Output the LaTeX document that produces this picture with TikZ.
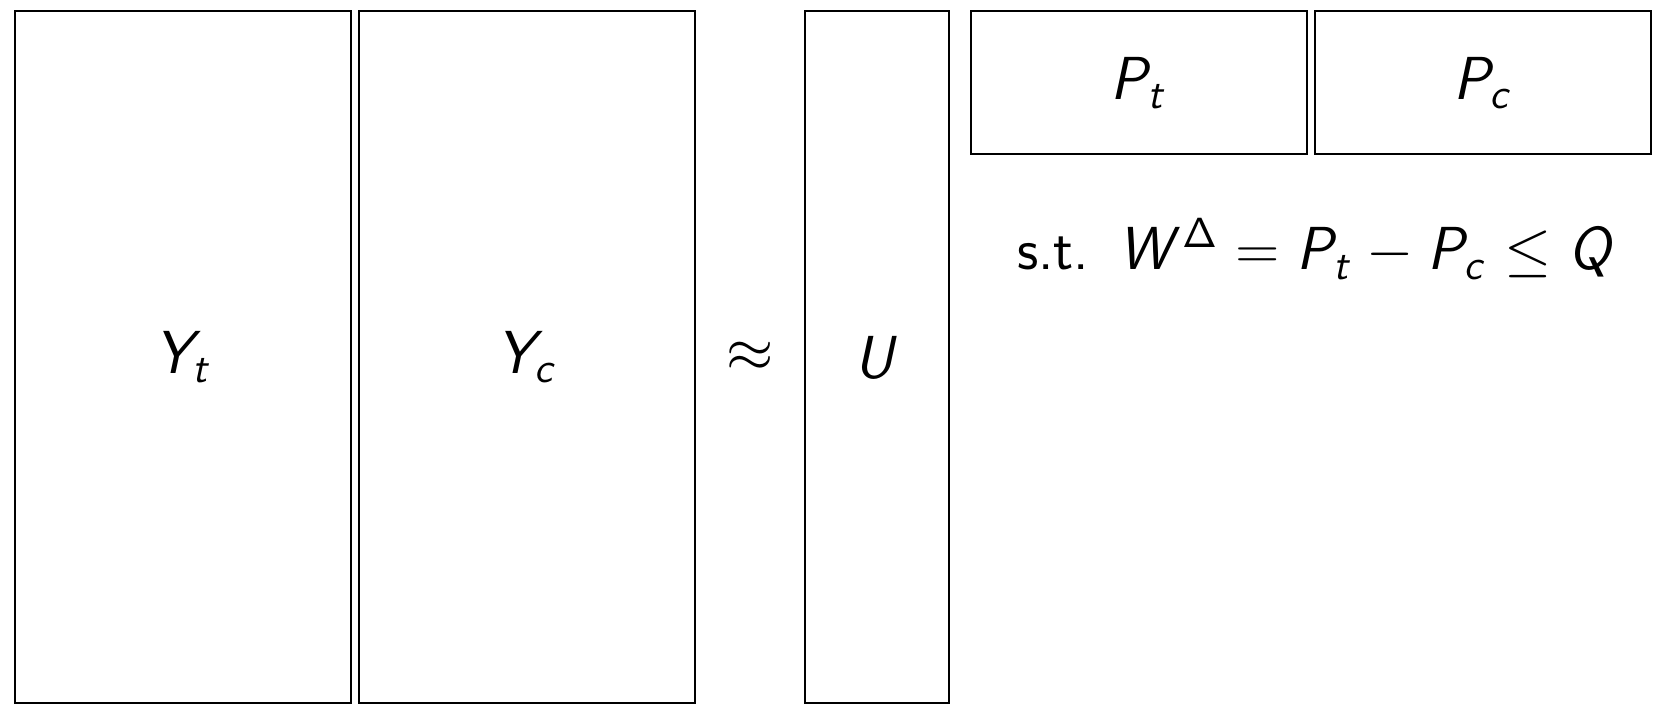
\documentclass[tikz,border=0pt]{standalone}
\usepackage{amsmath}
\usepackage{amssymb}
\usepackage{tikz}
\usetikzlibrary{positioning}

% sans serif maths, as in the slides
\renewcommand{\familydefault}{\sfdefault}
\DeclareSymbolFont{operators}{OT1}{cmss}{m}{n}
\SetSymbolFont{letters}{normal}{OT1}{cmss}{m}{sl}

\tikzset{
	matbox/.style={draw=black, line width=0.5pt, rectangle, inner sep=0pt, outer sep=0pt},
	every node/.style={font=\fontsize{16.8}{20}\selectfont},
}

\begin{document}
\begin{tikzpicture}
			\useasboundingbox (0,0) rectangle (16.72,7.16);
			\def\tall{6.92}
			\def\wide{3.36}
			% left hand side
			\node[matbox, minimum width=\wide cm, minimum height=\tall cm] (Yt) at (1.83,3.59) {$Y_t$};
			\node[matbox, minimum width=\wide cm, minimum height=\tall cm] (Yc) at (5.27,3.59) {$Y_c$};
			\node (approx) at (7.50,3.59) {$\approx$};
			% factors
			\node[matbox, minimum width=1.44cm, minimum height=\tall cm] (U) at (8.77,3.59) {$U$};
			\node[matbox, minimum width=\wide cm, minimum height=1.43cm] (Pt) at (11.39,6.335) {$P_t$};
			\node[matbox, minimum width=\wide cm, minimum height=1.43cm] (Pc) at (14.83,6.335) {$P_c$};
			% constraint
			\node[anchor=base] (cons) at (13.16,4.46) {s.t.\enspace$W^{\Delta} = P_t - P_c \leq Q$};
		\end{tikzpicture}
\end{document}
